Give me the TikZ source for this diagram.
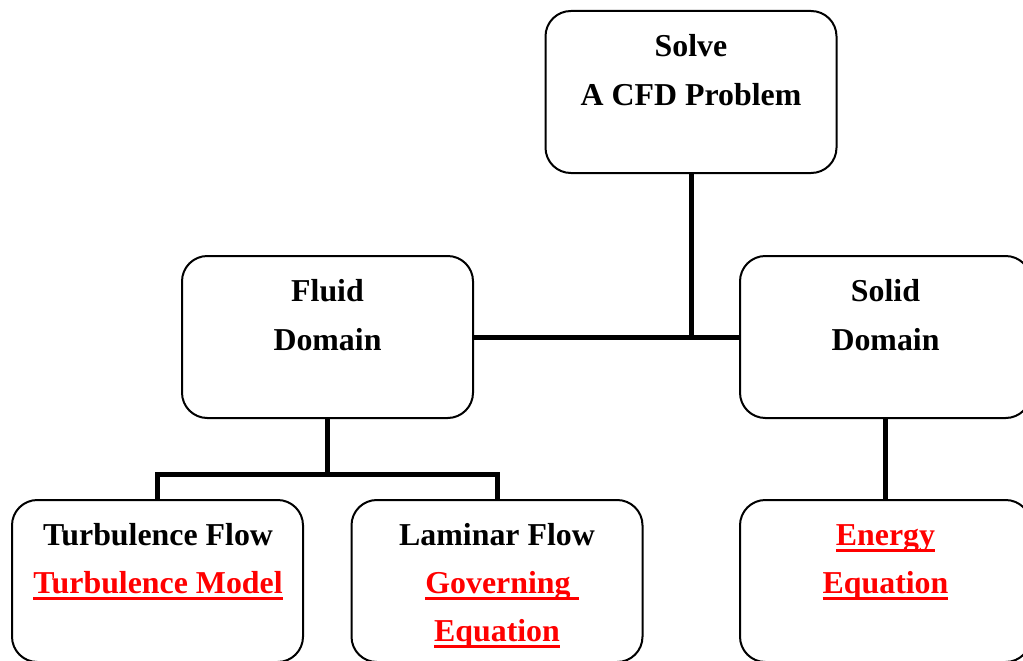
\documentclass[tikz,border=0pt]{standalone}
\usepackage{fontspec}
\setmainfont{Liberation Serif}
\newsavebox\ulbox
% red underlined phrase with a fixed rule below the baseline
\newcommand\redul[1]{\sbox\ulbox{#1}\rlap{\rule[-5pt]{\wd\ulbox}{1.8pt}}\usebox\ulbox}
\definecolor{linkred}{RGB}{255,0,0}
\begin{document}
\begin{tikzpicture}[x=0.75pt,y=-0.75pt,
  box/.style={draw, line width=1.5pt, rounded corners=19pt, minimum width=218.25pt,
    minimum height=121.5pt, inner sep=0pt, fill=white},
  link/.style={line width=3.75pt, line join=miter},
  txt/.style={font=\bfseries\fontsize{23.9}{36}\selectfont, inner sep=0pt, anchor=base},
  red txt/.style={txt, text=linkred}]
\useasboundingbox (0,0) rectangle (1023,660);
\clip (0,0) rectangle (1023,660);

% connectors
\coordinate (hub) at (691,337);
\coordinate (fork) at (327.5,474);

% boxes
\node[box] (top) at (691,92) {};
\node[box] (fluid) at (327.5,337) {};
\node[box] (solid) at (885.5,337) {};
\node[box] (turb) at (157.5,581) {};
\node[box] (lam) at (497,581) {};
\node[box] (energy) at (885.5,581) {};

\draw[link] (top.south) -- (hub);
\draw[link] (fluid.east) -- (solid.west);
\draw[link] (fluid.south) -- (fork);
\draw[link] (turb.north) -- (turb.north |- fork) -- (lam.north |- fork) -- (lam.north);
\draw[link] (solid.south) -- (energy.north);

% labels
\node[txt] (t1) at (691,57) {Solve};
\node[txt] (t2) at (691,105) {A CFD Problem};
\node[txt] (f1) at (327.5,301) {Fluid};
\node[txt] (f2) at (327.5,350) {Domain};
\node[txt] (s1) at (885.5,301) {Solid};
\node[txt] (s2) at (885.5,350) {Domain};
\node[txt] (b1) at (158,545) {Turbulence Flow};
\node[red txt] (b2) at (158,593) {\redul{Turbulence Model}};
\node[txt] (l1) at (497,545) {Laminar Flow};
\node[red txt] (l2) at (502,593) {\redul{Governing\ }};
\node[red txt] (l3) at (497,641) {\redul{Equation}};
\node[red txt] (e1) at (885.5,545) {\redul{Energy}};
\node[red txt] (e2) at (885.5,593) {\redul{Equation}};
\end{tikzpicture}
\end{document}
